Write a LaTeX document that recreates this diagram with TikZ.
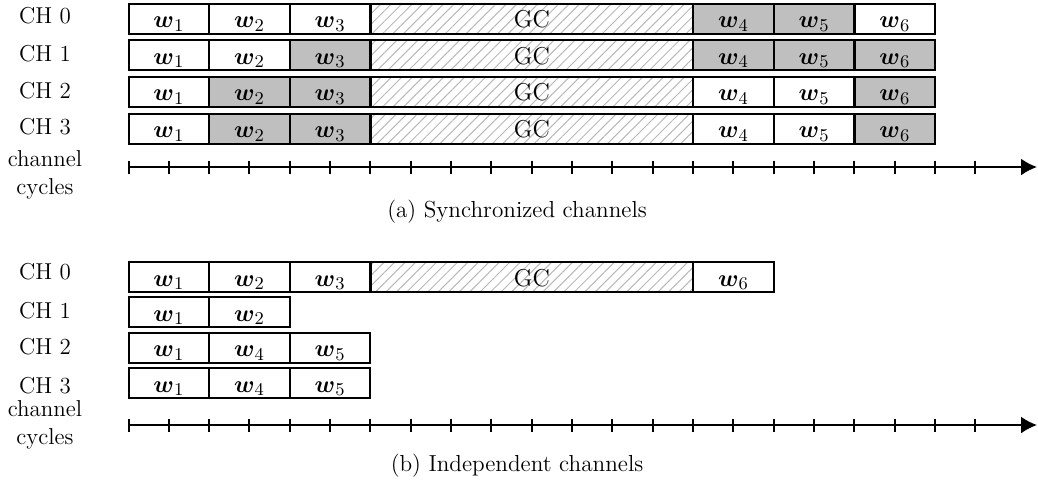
\documentclass[tikz,border=0pt]{standalone}
\usepackage{amsmath}
\usetikzlibrary{arrows.meta,patterns.meta}
\newcommand\figlbl{\fontsize{11.5}{14}\selectfont}
\newcommand\figcell{\fontsize{12.2}{14}\selectfont}
\newcommand\figcap{\fontsize{11.6}{14}\selectfont}
\newcommand\wv[1]{$\boldsymbol{w}_{#1}$}
\begin{document}
\begin{tikzpicture}[x=0.5pt,y=-0.5pt,
  cell/.style={draw=black,line width=1pt,inner sep=0pt,outer sep=0pt,minimum height=15pt,minimum width=40.33pt,text height=10.5pt,text depth=1.5pt,anchor=north west,font=\figcell},
  wc/.style={cell,fill=white},
  gcell/.style={cell,fill=gray!50},
  gcbox/.style={cell,minimum width=161.33pt,pattern={Lines[angle=45,distance=3.7pt,line width=0.5pt]},pattern color=gray!55},
  chl/.style={font=\figlbl,inner sep=0pt},
  axisline/.style={line width=1pt,-{Latex[length=8pt,width=8.5pt]}},
  tickline/.style={line width=1pt},
  capl/.style={font=\figcap,inner sep=0pt,anchor=base}]
\fill[white] (0,0) rectangle (1038,479);
\useasboundingbox (0,0) rectangle (1038,479);

% ---------- (a) synchronized ----------
\node[chl] (la0) at (45,15.5) {CH 0};
\node[chl] (la1) at (45,53.5) {CH 1};
\node[chl] (la2) at (45,90.5) {CH 2};
\node[chl] (la3) at (45,127) {CH 3};
\node[chl,align=center] (lac) at (45,175) {channel\\cycles};

% CH 0
\node[wc] (a0w1) at (128.5,3.5) {\wv1};
\node[wc] (a0w2) at (209.2,3.5) {\wv2};
\node[wc] (a0w3) at (289.8,3.5) {\wv3};
\node[gcbox] (a0gc) at (370.5,3.5) {GC};
\node[gcell] (a0w4) at (693.2,3.5) {\wv4};
\node[gcell] (a0w5) at (773.8,3.5) {\wv5};
\node[wc] (a0w6) at (854.5,3.5) {\wv6};
% CH 1
\node[wc] (a1w1) at (128.5,40.2) {\wv1};
\node[wc] (a1w2) at (209.2,40.2) {\wv2};
\node[gcell] (a1w3) at (289.8,40.2) {\wv3};
\node[gcbox] (a1gc) at (370.5,40.2) {GC};
\node[gcell] (a1w4) at (693.2,40.2) {\wv4};
\node[gcell] (a1w5) at (773.8,40.2) {\wv5};
\node[gcell] (a1w6) at (854.5,40.2) {\wv6};
% CH 2
\node[wc] (a2w1) at (128.5,76.9) {\wv1};
\node[gcell] (a2w2) at (209.2,76.9) {\wv2};
\node[gcell] (a2w3) at (289.8,76.9) {\wv3};
\node[gcbox] (a2gc) at (370.5,76.9) {GC};
\node[wc] (a2w4) at (693.2,76.9) {\wv4};
\node[wc] (a2w5) at (773.8,76.9) {\wv5};
\node[gcell] (a2w6) at (854.5,76.9) {\wv6};
% CH 3
\node[wc] (a3w1) at (128.5,113.6) {\wv1};
\node[gcell] (a3w2) at (209.2,113.6) {\wv2};
\node[gcell] (a3w3) at (289.8,113.6) {\wv3};
\node[gcbox] (a3gc) at (370.5,113.6) {GC};
\node[wc] (a3w4) at (693.2,113.6) {\wv4};
\node[wc] (a3w5) at (773.8,113.6) {\wv5};
\node[gcell] (a3w6) at (854.5,113.6) {\wv6};

% axis (a)
\coordinate (axa0) at (128.5,167);
\coordinate (axa1) at (1037,167);
\draw[axisline] (axa0) -- (axa1);
\foreach \k in {0,...,21} \draw[tickline] (128.5+\k*40.33,160.5) -- (128.5+\k*40.33,173.5);

\node[capl] (capa) at (517,217) {(a) Synchronized channels};

% ---------- (b) independent ----------
\node[chl] (lb0) at (45,272) {CH 0};
\node[chl] (lb1) at (45,310.5) {CH 1};
\node[chl] (lb2) at (45,347) {CH 2};
\node[chl] (lb3) at (45,385.5) {CH 3};
\node[chl,align=center] (lbc) at (45,425) {channel\\cycles};

% CH 0
\node[wc] (b0w1) at (128.5,262) {\wv1};
\node[wc] (b0w2) at (209.2,262) {\wv2};
\node[wc] (b0w3) at (289.8,262) {\wv3};
\node[gcbox] (b0gc) at (370.5,262) {GC};
\node[wc] (b0w6) at (693.2,262) {\wv6};
% CH 1
\node[wc] (b1w1) at (128.5,297.3) {\wv1};
\node[wc] (b1w2) at (209.2,297.3) {\wv2};
% CH 2
\node[wc] (b2w1) at (128.5,332.6) {\wv1};
\node[wc] (b2w4) at (209.2,332.6) {\wv4};
\node[wc] (b2w5) at (289.8,332.6) {\wv5};
% CH 3
\node[wc] (b3w1) at (128.5,368) {\wv1};
\node[wc] (b3w4) at (209.2,368) {\wv4};
\node[wc] (b3w5) at (289.8,368) {\wv5};

% axis (b)
\coordinate (axb0) at (128.5,425);
\coordinate (axb1) at (1037,425);
\draw[axisline] (axb0) -- (axb1);
\foreach \k in {0,...,21} \draw[tickline] (128.5+\k*40.33,418.5) -- (128.5+\k*40.33,431.5);

\node[capl] (capb) at (517,471) {(b) Independent channels};
\end{tikzpicture}
\end{document}
